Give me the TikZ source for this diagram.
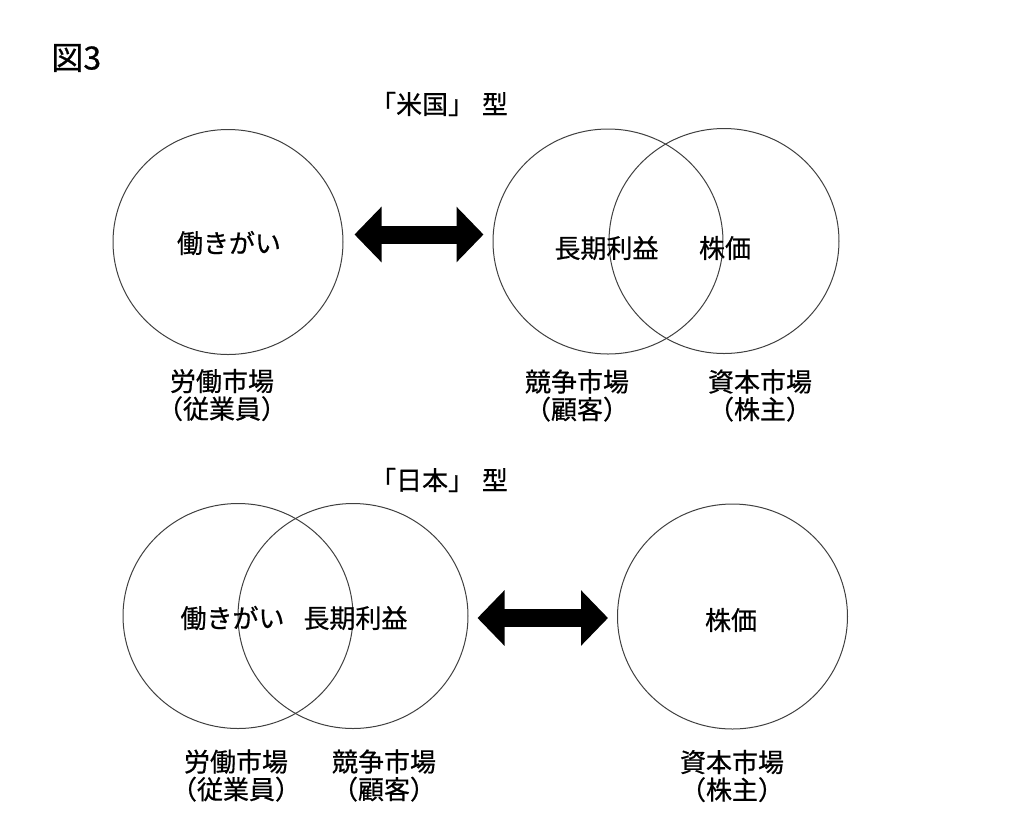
\documentclass[tikz,border=0pt]{standalone}
\usepackage{fontspec}
\setmainfont{Noto Sans CJK JP}[FakeBold=0.6]
\usetikzlibrary{arrows.meta,calc,shapes.geometric}

\begin{document}
\begin{tikzpicture}[x=0.5pt,y=-0.5pt,
    market/.style={draw=black!75,line width=0.5pt,ellipse,minimum width=115pt,minimum height=112.5pt,inner sep=0pt},
    word/.style={font=\fontsize{13}{13.8}\selectfont,inner sep=0pt,align=center},
    bigarrow/.style={line width=9pt,{Triangle[length=13.5pt,width=27pt]}-{Triangle[length=13.5pt,width=27pt]}}]

    \useasboundingbox (0,0) rectangle (1024,827);

    % Title
    \node[inner sep=0pt,anchor=west,font=\fontsize{16}{18}\selectfont] (title) at (51,58) {図3};

    % "US" type
    \node[word] (usHead) at (439,104) {「米国」\hspace{0.3em}型};

    \node[market] (usLabor) at (228,242) {};
    \node[market] (usComp) at (608,241.5) {};
    \node[market] (usCapital) at (724,241) {};

    \node[word] (usLaborIn) at (229,243) {働きがい};
    \node[word] (usCompIn) at (606.5,248) {長期利益};
    \node[word] (usCapitalIn) at (725,248) {株価};

    \node[word] (usLaborTxt) at (222,395) {労働市場\\（従業員）};
    \node[word] (usCompTxt) at (577,395.5) {競争市場\\（顧客）};
    \node[word] (usCapitalTxt) at (760,395.5) {資本市場\\（株主）};

    \draw[bigarrow] ($(usLabor.east)+(11,-7.5)$) -- ($(usComp.west)+(-9,-7)$);

    % "Japan" type
    \node[word] (jpHead) at (439,480) {「日本」\hspace{0.3em}型};

    \node[market] (jpLabor) at (238,616) {};
    \node[market] (jpComp) at (353,616) {};
    \node[market] (jpCapital) at (732.5,616.5) {};

    \node[word] (jpLaborIn) at (232.5,618) {働きがい};
    \node[word] (jpCompIn) at (355.5,618) {長期利益};
    \node[word] (jpCapitalIn) at (731,620) {株価};

    \node[word] (jpLaborTxt) at (236,775.5) {労働市場\\（従業員）};
    \node[word] (jpCompTxt) at (384,775.5) {競争市場\\（顧客）};
    \node[word] (jpCapitalTxt) at (732,776) {資本市場\\（株主）};

    \draw[bigarrow] ($(jpComp.east)+(9,2)$) -- ($(jpCapital.west)+(-9,1.5)$);

\end{tikzpicture}
\end{document}
